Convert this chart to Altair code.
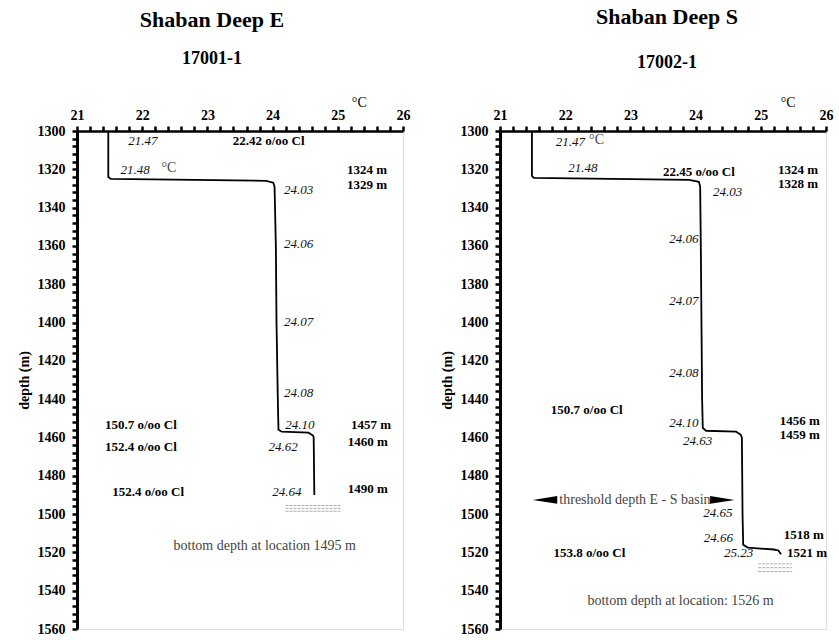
import altair as alt
import pandas as pd

FONT = "Liberation Serif"

# ---------------- data: Shaban Deep E (17001-1) ----------------
e_depth = [1300, 1324, 1325, 1326, 1327, 1329, 1360, 1400, 1440, 1456, 1457, 1457.5, 1459, 1460, 1490]
e_temp = [21.48, 21.48, 21.52, 23.9, 24.01, 24.03, 24.05, 24.06, 24.08, 24.09, 24.14, 24.55, 24.62, 24.63, 24.64]

e_it_text = ["21.47", "21.48", "24.03", "24.06", "24.07", "24.08", "24.10", "24.62", "24.64"]
e_it_x = [22.01, 21.89, 24.40, 24.40, 24.40, 24.40, 24.42, 24.16, 24.22]
e_it_y = [1305.2, 1320.3, 1330.7, 1358.9, 1399.5, 1437, 1453.6, 1465.1, 1488.5]

e_b_text = ["22.42 o/oo Cl", "1324 m", "1329 m", "150.7 o/oo Cl", "1457 m",
            "152.4 o/oo Cl", "1460 m", "152.4 o/oo Cl", "1490 m"]
e_b_x = [23.94, 25.45, 25.45, 21.98, 25.51, 21.98, 25.46, 22.09, 25.46]
e_b_y = [1305.2, 1320.3, 1328.1, 1453.6, 1453.6, 1465.1, 1462.5, 1488.5, 1487]

e_r_text = ["°C", "bottom depth at location 1495 m"]
e_r_x = [22.41, 23.88]
e_r_y = [1319.5, 1516.7]

e_bottom_y = [1495.5, 1497, 1498.5]
e_bottom_x1 = [24.2, 24.2, 24.2]
e_bottom_x2 = [25.05, 25.05, 25.05]

# ---------------- data: Shaban Deep S (17002-1) ----------------
s_depth = [1300, 1323.5, 1324.5, 1325.5, 1326.5, 1329, 1360, 1400, 1440, 1455, 1456.5, 1457, 1458.5,
           1460, 1500, 1516, 1517.5, 1518.5, 1519, 1521]
s_temp = [21.49, 21.49, 21.52, 23.9, 24.05, 24.07, 24.08, 24.09, 24.10, 24.11, 24.16, 24.62, 24.69,
          24.71, 24.72, 24.73, 24.8, 25.2, 25.27, 25.31]

s_it_text = ["21.47", "21.48", "24.03", "24.06", "24.07", "24.08", "24.10", "24.63", "24.65", "24.66", "25.23"]
s_it_x = [22.08, 22.27, 24.49, 23.82, 23.82, 23.82, 23.82, 24.03, 24.34, 24.35, 24.66]
s_it_y = [1305.8, 1319.5, 1332, 1356.3, 1389, 1426.3, 1452.6, 1461.6, 1499.5, 1512.6, 1520.5]

s_b_text = ["22.45 o/oo Cl", "1324 m", "1328 m", "150.7 o/oo Cl", "1456 m", "1459 m",
            "1518 m", "153.8 o/oo Cl", "1521 m"]
s_b_x = [24.05, 25.57, 25.57, 22.33, 25.60, 25.60, 25.66, 22.37, 25.71]
s_b_y = [1321.3, 1320.2, 1327.7, 1445.8, 1451.3, 1458.7, 1511, 1520.5, 1520.5]

s_r_text = ["°C", "threshold depth E - S basin", "bottom depth at location: 1526 m"]
s_r_x = [22.48, 23.07, 23.77]
s_r_y = [1304.5, 1492.6, 1545.3]

s_arrow_x = [21.69, 24.41]
s_arrow_y = [1492.6, 1492.6]
s_arrow_dir = ["left", "right"]

s_bottom_y = [1526, 1528, 1530]
s_bottom_x1 = [24.96, 24.96, 24.96]
s_bottom_x2 = [25.48, 25.48, 25.48]

# axis ticks / labels
x_ticks = [round(21 + 0.2 * i, 1) for i in range(26)]
y_ticks = list(range(1300, 1561, 4))
unit_label_x = {"E": 25.33, "S": 25.42}

X_SCALE = alt.Scale(domain=[21, 26], nice=False, zero=False)
Y_SCALE = alt.Scale(domain=[1300, 1560], nice=False, zero=False, reverse=True)

X_AXIS = alt.Axis(orient="top", values=x_ticks, tickCount=len(x_ticks) + 5, title=None,
                  labelExpr="abs(datum.value - round(datum.value)) < 0.01 ? format(datum.value, 'd') : ''",
                  labelOverlap=False, labelFlush=False, labelBound=False,
                  tickSize=5, tickWidth=2.5, domainWidth=2.5, labelPadding=4,
                  labelFontSize=14, labelFont=FONT, labelFontWeight="bold", labelColor="black",
                  tickColor="black", domainColor="black", grid=False)
Y_AXIS = alt.Axis(orient="left", values=y_ticks, tickCount=len(y_ticks) + 5, title="depth (m)",
                  labelExpr="datum.value % 20 == 0 ? datum.value : ''",
                  labelOverlap=False, labelFlush=False, labelBound=False,
                  tickSize=5, tickWidth=2.5, domainWidth=3, labelPadding=7,
                  labelFontSize=14, labelFont=FONT, labelFontWeight="bold", labelColor="black",
                  titleFont=FONT, titleFontSize=14, titleFontWeight="bold", titleColor="black",
                  titlePadding=6, tickColor="black", domainColor="black", grid=False)

LEFT_ARROW = "M -1 0 L 1 -0.32 L 1 0.32 Z"
RIGHT_ARROW = "M 1 0 L -1 -0.32 L -1 0.32 Z"


def panel(title, subtitle, dx, sub_pad, offset, depth, temp, it, bold, reg, bottom, unit_x, arrows=None):
    prof = pd.DataFrame({"temp": temp, "depth": depth, "order": list(range(len(depth)))})
    line = alt.Chart(prof).mark_line(color="black", strokeWidth=1.8).encode(
        x=alt.X("temp:Q", scale=X_SCALE, axis=X_AXIS),
        y=alt.Y("depth:Q", scale=Y_SCALE, axis=Y_AXIS),
        order="order:Q",
    )

    def txt(df, **kw):
        return alt.Chart(df).mark_text(font=FONT, baseline="middle", align="center", **kw).encode(
            x=alt.X("x:Q", scale=X_SCALE), y=alt.Y("y:Q", scale=Y_SCALE), text="t:N")

    it_df = pd.DataFrame({"t": it[0], "x": it[1], "y": it[2]})
    b_df = pd.DataFrame({"t": bold[0], "x": bold[1], "y": bold[2]})
    r_df = pd.DataFrame({"t": reg[0], "x": reg[1], "y": reg[2]})

    layers = [
        line,
        txt(it_df, fontSize=13, fontStyle="italic", color="#111"),
        txt(b_df, fontSize=13, fontWeight="bold", color="black"),
        txt(r_df, fontSize=14, color="#444"),
    ]

    bdf = pd.DataFrame({"y": bottom[0], "x1": bottom[1], "x2": bottom[2]})
    layers.append(alt.Chart(bdf).mark_rule(color="#aaa", strokeWidth=1, strokeDash=[3, 1]).encode(
        x=alt.X("x1:Q", scale=X_SCALE), x2="x2:Q", y=alt.Y("y:Q", scale=Y_SCALE)))

    if arrows is not None:
        adf = pd.DataFrame({"x": arrows[0], "y": arrows[1], "d": arrows[2]})
        for d, shp in (("left", LEFT_ARROW), ("right", RIGHT_ARROW)):
            layers.append(alt.Chart(adf).transform_filter(alt.datum.d == d).mark_point(
                shape=shp, filled=True, color="black", size=600, opacity=1).encode(
                x=alt.X("x:Q", scale=X_SCALE), y=alt.Y("y:Q", scale=Y_SCALE)))

    udf = pd.DataFrame({"x": [unit_x], "t": ["°C"]})
    layers.append(alt.Chart(udf).mark_text(font=FONT, fontSize=14, color="black", baseline="middle").encode(
        x=alt.X("x:Q", scale=X_SCALE), y=alt.value(-28), text="t:N"))

    return alt.layer(*layers).properties(
        width=326, height=498,
        title=alt.TitleParams(text=title, subtitle=subtitle, frame="group", anchor="middle", dx=dx,
                              font=FONT, fontSize=22, fontWeight="bold", color="black",
                              subtitleFont=FONT, subtitleFontSize=18, subtitleFontWeight="bold",
                              subtitleColor="black", subtitlePadding=sub_pad, offset=offset),
    )


left = panel("Shaban Deep E", "17001-1", -28, 18, 27, e_depth, e_temp,
             (e_it_text, e_it_x, e_it_y), (e_b_text, e_b_x, e_b_y), (e_r_text, e_r_x, e_r_y),
             (e_bottom_y, e_bottom_x1, e_bottom_x2), unit_label_x["E"])
right = panel("Shaban Deep S", "17002-1", 4, 25, 23, s_depth, s_temp,
              (s_it_text, s_it_x, s_it_y), (s_b_text, s_b_x, s_b_y), (s_r_text, s_r_x, s_r_y),
              (s_bottom_y, s_bottom_x1, s_bottom_x2), unit_label_x["S"],
              arrows=(s_arrow_x, s_arrow_y, s_arrow_dir))

chart = alt.hconcat(left, right, spacing=28).properties(
    padding={"left": 16, "top": 5, "right": 0, "bottom": 0}
).configure_view(stroke="black", strokeWidth=2.5).configure(background="white")

chart.save("out.html", embed_options={"renderer": "svg", "actions": False})
